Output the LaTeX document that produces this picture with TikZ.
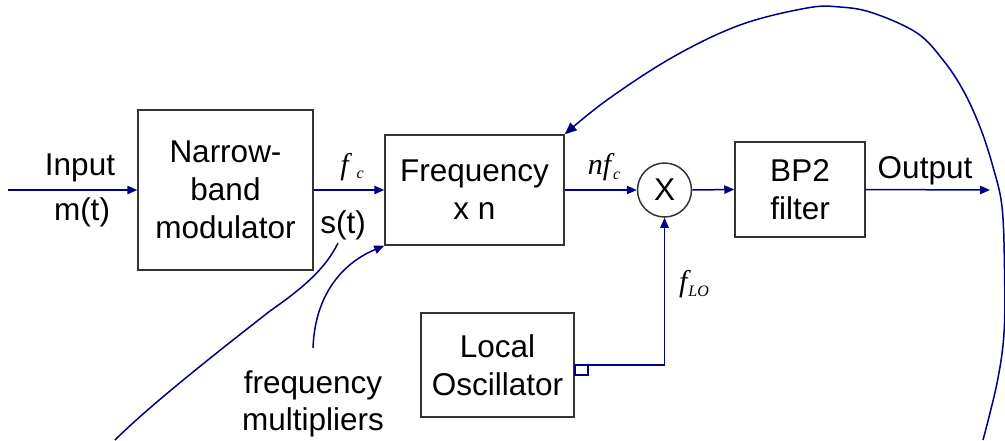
\documentclass[tikz,border=0pt]{standalone}
\usepackage{fontspec}
\setmainfont{Liberation Sans}
\newfontfamily\tnr{Liberation Serif}
\usetikzlibrary{arrows.meta}
\definecolor{navy}{RGB}{0,0,128}
\newcommand{\lblfont}{\fontsize{15.75}{19}\selectfont}
\newcommand{\mathlbl}{\tnr\itshape\fontsize{15}{15}\selectfont}
\newcommand{\subfnt}{\tnr\itshape\fontsize{8}{8}\selectfont}
\begin{document}
\begin{tikzpicture}[x=0.5pt,y=-0.5pt,
  box/.style={draw=black!80, line width=0.75pt, inner sep=0pt, align=center, font=\lblfont},
  lbl/.style={font=\lblfont, anchor=base, inner sep=0pt},
  mlbl/.style={font=\mathlbl, inner sep=0pt},
  wire/.style={draw=navy, line width=0.75pt},
  conn/.style={wire, -{Triangle[length=5pt,width=4.2pt]}},
  bigconn/.style={wire, -{Triangle[length=6pt,width=5pt]}}
]
\useasboundingbox (0,0) rectangle (1005,440);

% blocks
\node[box, minimum width=87.5pt, minimum height=80pt] (mod) at (225.5,190) {Narrow-\\band\\modulator};
\node[box, minimum width=89.5pt, minimum height=55pt] (freq) at (474.5,190) {Frequency\\x n};
\node[box, circle, minimum size=27pt] (mix) at (664.5,190) {X};
\node[box, minimum width=65pt, minimum height=47.5pt] (bp) at (800,189.5) {BP2\\filter};
\node[box, minimum width=76.5pt, minimum height=52pt] (lo) at (497.5,365) {Local\\Oscillator};

% free ends
\coordinate (in) at (8,190);
\coordinate (out) at (990,190);

% connectors
\draw[conn] (in) -- (mod.west);
\draw[conn] (mod.east) -- (freq.west);
\draw[conn] (freq.east) -- (mix.west);
\draw[conn] (mix.east) -- (bp.west);
\draw[conn] (bp.east) -- (out);
\draw[conn] (lo.east) -| (mix.south);
\draw[wire] (lo.east) rectangle ++(13,10);

% labels
\node[lbl] at (80,175) {Input};
\node[lbl] at (82,220) {m(t)};
\node[lbl] at (343,233) {s(t)};
\node[lbl] at (925,178) {Output};
\node[lbl] (fm1) at (313,393) {frequency};
\node[lbl] (fm2) at (313,430) {multipliers};
\node[mlbl] at (352,167) {f\hspace{4pt}\raisebox{-2pt}{\subfnt c}};
\node[mlbl] at (604,167) {nf\hspace{1pt}\raisebox{-2.5pt}{\subfnt c}};
\node[mlbl] at (694,284) {f\hspace{0.5pt}\raisebox{-2.5pt}{\subfnt LO}};

% pointer curves
\coordinate (fmtop) at (313,348);
\draw[conn] (fmtop) .. controls (315,292) and (345,262) .. (freq.south west);
\coordinate (sttop) at (338,243);
\coordinate (stmid) at (270,311);
\coordinate (stend) at (115,440);
\draw[wire] (sttop) .. controls (325,270) and (300,290) .. (stmid)
            .. controls (220,350) and (150,405) .. (stend);

% big feedback curve
\coordinate (bigstart) at (983,440);
\draw[bigconn] plot[smooth, tension=0.6] coordinates {
  (bigstart) (997,383) (1004,333) (1004.5,270) (1002,207) (993,167) (980,127)
  (963,90) (943,60) (917,33) (873,13) (840,7) (807,8) (740,25) (673,57)
  (607,100) (freq.north east)};
\end{tikzpicture}
\end{document}
